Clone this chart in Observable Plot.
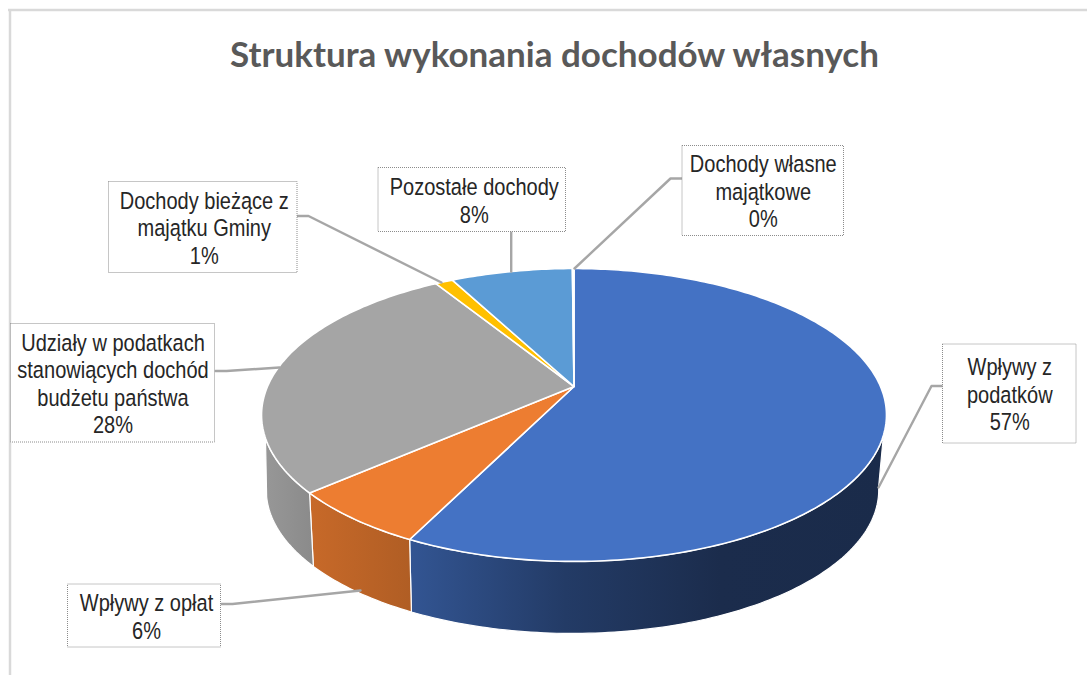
<!DOCTYPE html>
<html lang="pl">
<head>
<meta charset="utf-8">
<script src="https://cdn.jsdelivr.net/npm/d3@7"></script>
<script src="https://cdn.jsdelivr.net/npm/@observablehq/plot@0.6"></script>
<style>html,body{margin:0;padding:0;background:#fff}svg{display:block}</style>
</head>
<body>
<div id="chart"></div>
<script>
// Data
const titleText = "Struktura wykonania dochodów własnych";
const categories = ["Wpływy z\npodatków", "Wpływy z opłat", "Udziały w podatkach\nstanowiących dochód\nbudżetu państwa", "Dochody bieżące z\nmajątku Gminy", "Pozostałe dochody", "Dochody własne\nmajątkowe"];
const values = [57.3, 6.25, 27.65, 1.1, 7.6, 0.1];
const colors = ["#4472c4", "#ed7d31", "#a5a5a5", "#ffc000", "#5b9bd5", "#70ad47"];

// Layout of callouts (chart space)
const boxes = [
  {x1: 942.5, x2: 1076, y1: 344, y2: 443},
  {x1: 67.5, x2: 220.5, y1: 584, y2: 647},
  {x1: 10.5, x2: 214.5, y1: 323.5, y2: 442},
  {x1: 108.5, x2: 297, y1: 181.5, y2: 272.5},
  {x1: 378, x2: 565.5, y1: 167.5, y2: 231.5},
  {x1: 682, x2: 843.5, y1: 145.5, y2: 235.5}
];
const labelOffsets = [0, 2, 0, 1, 2, 0];
const leaders = [
  [[942, 385.5], [931, 385.5], [878, 487]],
  [[221, 603.5], [232, 603.5], [360, 590]],
  [[215, 370.5], [226, 370.5], [279, 367]],
  [[297, 215.5], [308, 215.5], [441, 282]],
  [[510.7, 232], [510.7, 271]],
  [[682, 178], [670, 178], [574, 268]]
];

// Perspective projection of the disc
const apex = [573.5, 386];
const A = 306.5, B = 140.9, K = 0.1945;
const BOTTOM = {s: 0.98, dx: -1.5, dy: 75.5};
function project(angle, r = 1, bottom = false) {
  const u = r * Math.sin(angle), v = -r * Math.cos(angle);
  const w = 1 - K * v;
  let X = A * u / w, Y = B * v / w;
  if (bottom) { X = X * BOTTOM.s + BOTTOM.dx; Y = Y * BOTTOM.s + BOTTOM.dy; }
  return {x: apex[0] + X, y: apex[1] + Y};
}
const arcs = d3.pie().sort(null)(values);
const STEP = Math.PI / 180;
function sweep(a0, a1, bottom) {
  const n = Math.max(1, Math.ceil((a1 - a0) / STEP));
  return d3.range(n + 1).map(i => project(a0 + (a1 - a0) * i / n, 1, bottom));
}
const tops = arcs.map(d => {
  const c = project(0, 0);
  return [c, ...sweep(d.startAngle, d.endAngle, false), c];
});
// Visible front band: the rim ends are joined by the straight silhouette edges
const TOP_FRONT = [109 * STEP, 250 * STEP];
const BOTTOM_FRONT = [100 * STEP, 256 * STEP];
const walls = arcs.map((d, i) => {
  const t0 = Math.max(d.startAngle, TOP_FRONT[0]), t1 = Math.min(d.endAngle, TOP_FRONT[1]);
  const b0 = Math.max(d.startAngle, BOTTOM_FRONT[0]), b1 = Math.min(d.endAngle, BOTTOM_FRONT[1]);
  if (b1 <= b0) return null;
  const top = sweep(t0, t1, false);
  return {i, pts: [...top, ...sweep(b0, b1, true).reverse(), top[0]]};
}).filter(Boolean);

// Wall shading: lit from the left, darkening to the right
const shade = [[262, 1.0], [310, 0.84], [415, 0.74], [565, 0.52], [720, 0.39], [887, 0.38]];
function gradients() {
  const defs = d3.create("svg:defs");
  colors.forEach((c, i) => {
    const g = defs.append("linearGradient").attr("id", "wall" + i)
      .attr("gradientUnits", "userSpaceOnUse")
      .attr("x1", 262).attr("x2", 887).attr("y1", 0).attr("y2", 0);
    shade.forEach(([x, f]) => {
      const k = i === 2 && x < 300 ? 0.92 : f;
      const q = d3.rgb(c);
      g.append("stop").attr("offset", (x - 262) / 625)
        .attr("stop-color", d3.rgb(q.r * k, q.g * k, q.b * k).formatHex());
    });
  });
  return defs.node();
}

const labelData = boxes.map((b, i) => ({
  cx: (b.x1 + b.x2) / 2 + labelOffsets[i],
  cy: (b.y1 + b.y2) / 2,
  text: categories[i] + "\n" + Math.round(values[i]) + "%"
}));
const LABEL_FONT = "'Liberation Sans', Arial, sans-serif";
const CONDENSE = 0.852;

const plot = Plot.plot({
  width: 1087,
  height: 675,
  margin: 0,
  x: {domain: [0, 1087], range: [0, 1087], axis: null},
  y: {domain: [0, 675], range: [0, 675], axis: null},
  marks: [
    gradients,
    Plot.ruleX([9.5], {y1: 9.5, y2: 675, stroke: "#d9d9d9", strokeWidth: 2.5}),
    Plot.ruleY([9.5], {x1: 8, x2: 1087, stroke: "#d9d9d9", strokeWidth: 2.5}),
    ...walls.map(w => Plot.line(w.pts, {x: "x", y: "y", fill: `url(#wall${w.i})`, stroke: "#fff", strokeWidth: 1.2, curve: "linear"})),
    ...tops.map((pts, i) => Plot.line(pts, {x: "x", y: "y", fill: colors[i], stroke: "#fff", strokeWidth: 1.6, strokeLinejoin: "round", curve: "linear"})),
    ...leaders.map(l => Plot.line(l, {x: d => d[0], y: d => d[1], stroke: "#a6a6a6", strokeWidth: 2.4, curve: "linear"})),
    Plot.rect(boxes, {x1: "x1", x2: "x2", y1: "y1", y2: "y2", fill: "#fff", stroke: "#8c8c8c", strokeWidth: 1, strokeDasharray: "1,1"}),
    Plot.text(labelData, {x: "cx", y: "cy", text: "text", className: "callout", fontSize: 23.5, lineHeight: 1.17, fontFamily: LABEL_FONT, fill: "#262626", textAnchor: "middle", lineAnchor: "middle"}),
    Plot.text([titleText], {x: () => 554, y: () => 55, text: d => d, fontSize: 35, fontWeight: 700, fontFamily: "Lato, sans-serif", fill: "#595959", textAnchor: "middle", lineAnchor: "middle"})
  ]
});
// Narrow label face: squeeze the real text horizontally around its anchor
plot.querySelectorAll(".callout text").forEach(t => {
  t.setAttribute("transform", (t.getAttribute("transform") || "") + ` scale(${CONDENSE},1)`);
});
document.getElementById("chart").append(plot);
</script>
</body>
</html>
